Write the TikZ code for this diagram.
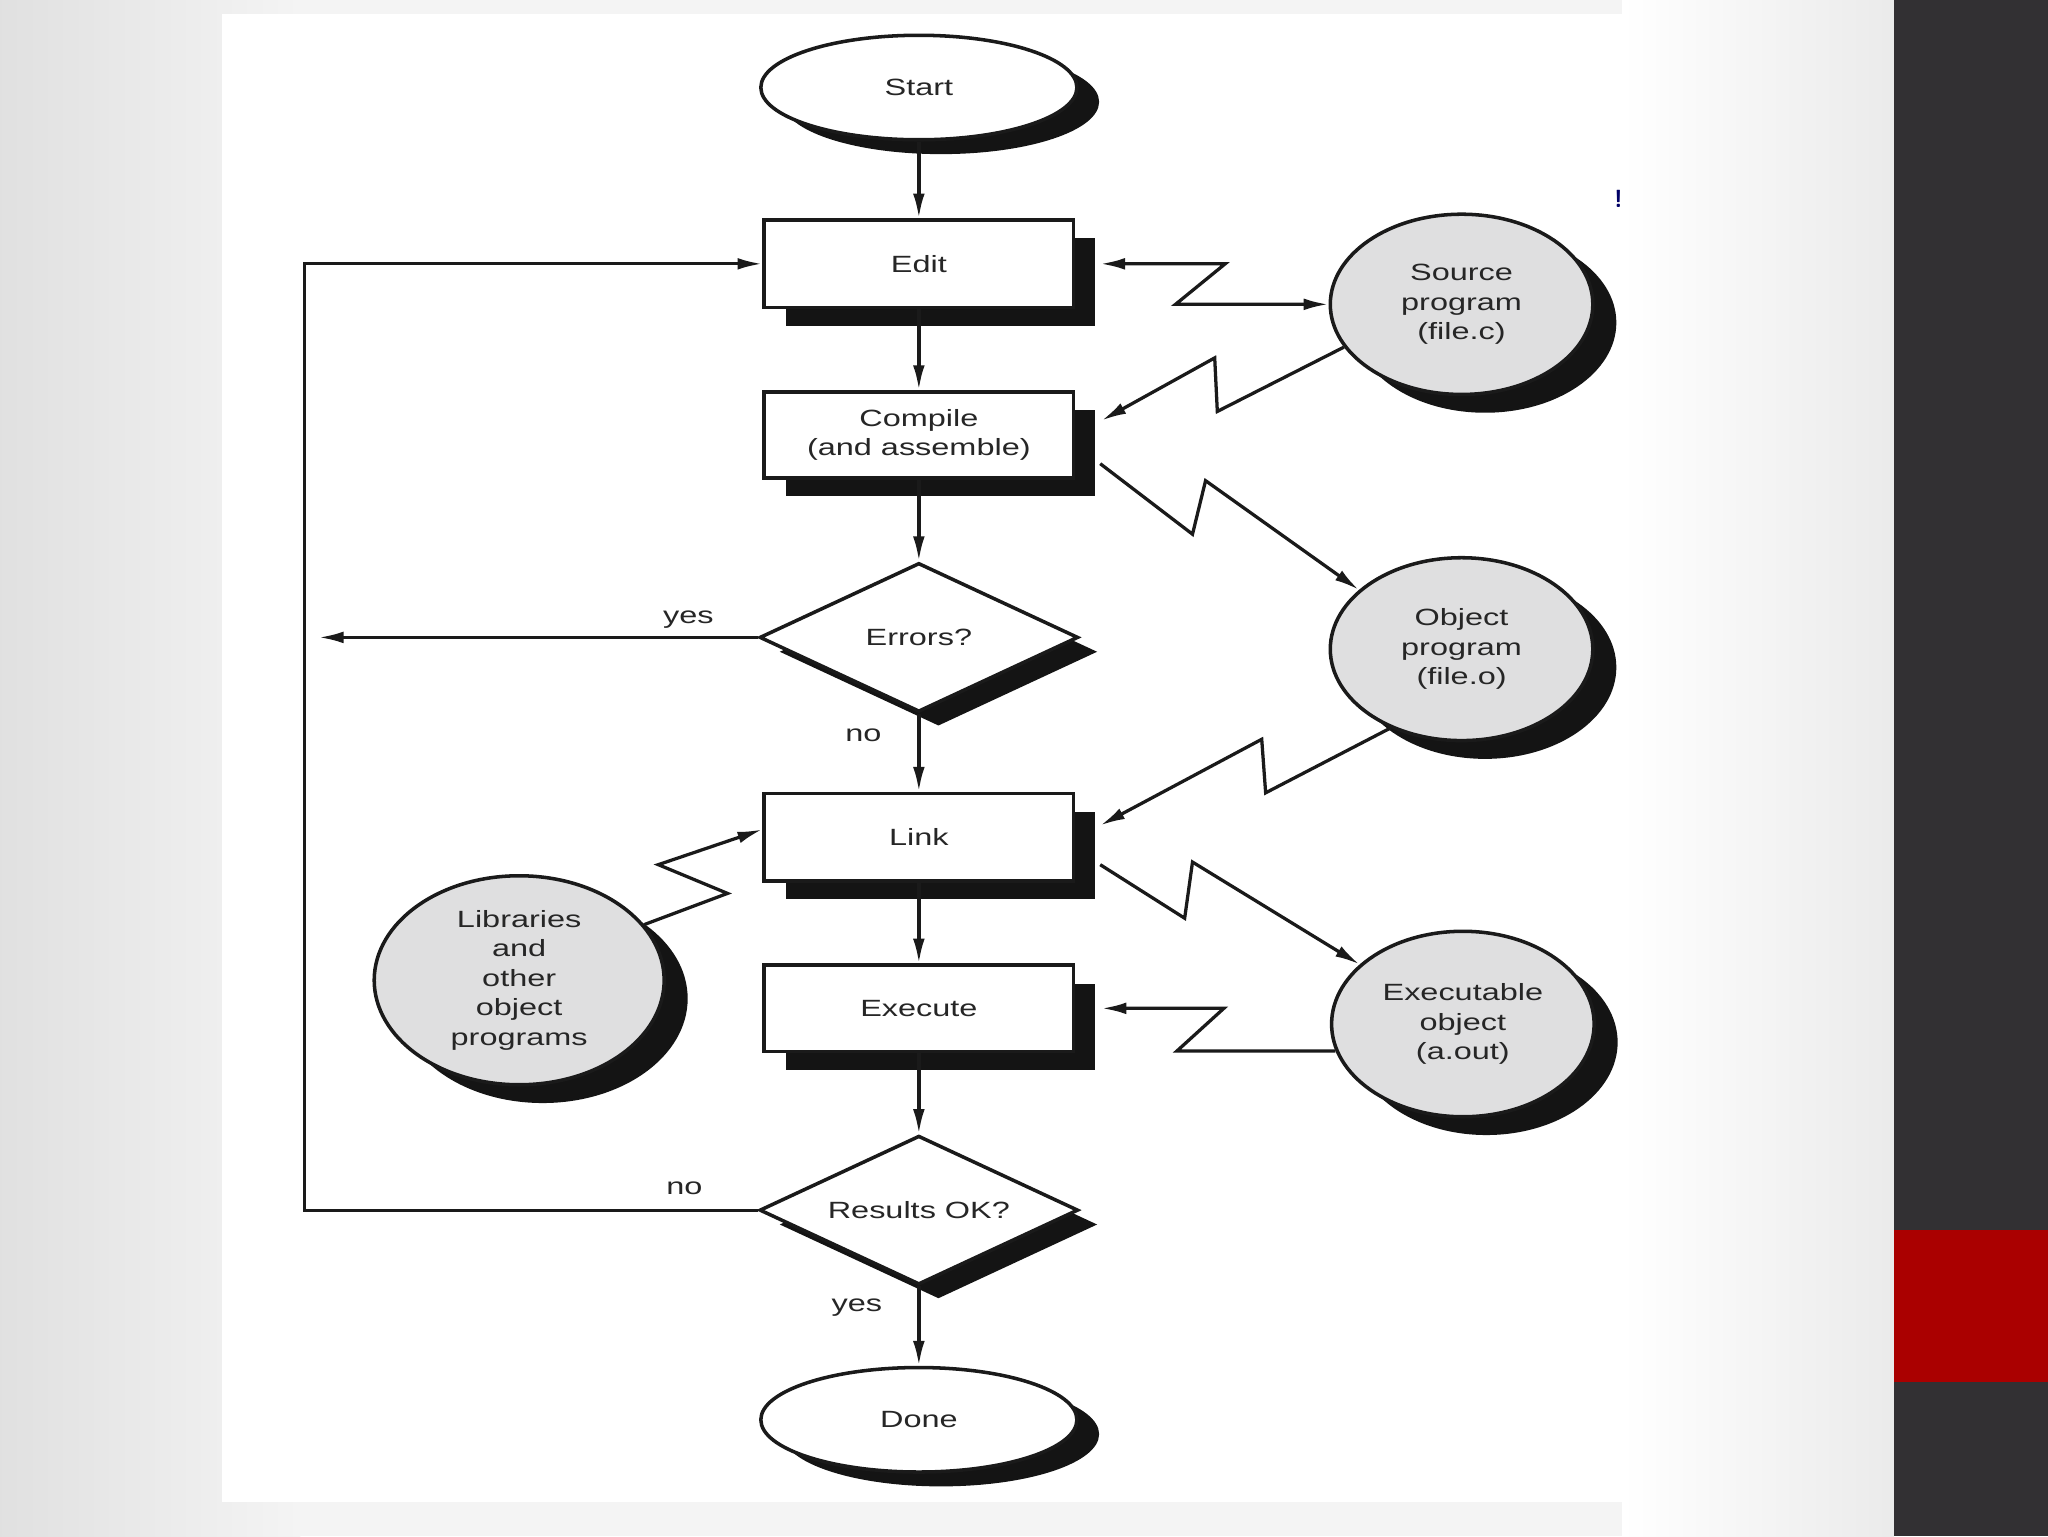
\documentclass[tikz,border=0pt]{standalone}
\usepackage{fontspec}
\newfontfamily\diafont[FakeStretch=1.38]{Liberation Sans}
\usetikzlibrary{shapes.geometric,shadows,arrows.meta,calc}
\definecolor{linec}{HTML}{1A1A1A}
\definecolor{textc}{HTML}{262626}
\definecolor{storegray}{HTML}{DFDFE0}
\definecolor{shadowc}{HTML}{141414}
\definecolor{bgc}{HTML}{F4F4F4}
\definecolor{barc}{HTML}{323033}
\definecolor{redc}{HTML}{AA0000}
\tikzset{
  base/.style={draw=linec, line width=2.7pt, text=textc, align=center, inner sep=0pt,
    font=\diafont\fontsize{18}{22.5}\selectfont},
  procbox/.style={base, rectangle, fill=white, minimum width=237pt, minimum height=67pt,
    drop shadow={shadow xshift=16.5pt, shadow yshift=-14pt, fill=shadowc, opacity=1}},
  term/.style={base, ellipse, fill=white, minimum width=242pt, minimum height=80pt,
    drop shadow={shadow xshift=17pt, shadow yshift=-11pt, fill=shadowc, opacity=1}},
  decision/.style={base, diamond, aspect=2.14, fill=white, minimum width=244pt, minimum height=114pt,
    drop shadow={shadow xshift=15pt, shadow yshift=-11pt, fill=shadowc, opacity=1}},
  store/.style={base, ellipse, fill=storegray, minimum width=201pt, minimum height=140pt,
    drop shadow={shadow xshift=18pt, shadow yshift=-14pt, fill=shadowc, opacity=1}},
  conn/.style={draw=linec, line width=2.5pt, line join=miter, -{Latex[length=19pt,width=9pt]}},
  biconn/.style={draw=linec, line width=2.5pt, line join=miter, {Latex[length=19pt,width=9pt]}-{Latex[length=19pt,width=9pt]}},
  lbl/.style={text=textc, inner sep=0pt, font=\diafont\fontsize{18}{22.5}\selectfont},
}
\begin{document}
\begin{tikzpicture}[x=1pt,y=-1pt]
\useasboundingbox (0,0) rectangle (1568,1176);
% background
\fill[bgc] (0,0) rectangle (1450,1176);
\shade[left color=black!12, right color=bgc] (0,0) rectangle (230,1176);
\shade[left color=white, right color=black!8] (1242,0) rectangle (1450,1176);
\fill[white] (170,11) rectangle (1242,1150);
\fill[barc] (1450,0) rectangle (1568,1176);
\fill[redc] (1450,942) rectangle (1568,1058);
\node[text=blue!40!black, inner sep=0pt, font=\sffamily\bfseries\fontsize{19}{19}\selectfont] (mark) at (1239,152) {!};

% main column
\node[term]     (start)   at (703.5,67)    {Start};
\node[procbox]  (edit)    at (703.5,202) {Edit};
\node[procbox, minimum height=66pt] (compile) at (703.5,333) {Compile\\(and assemble)};
\node[decision] (errors)  at (703.5,488)   {Errors?};
\node[procbox]  (link)    at (703.5,641) {Link};
\node[procbox, minimum height=66pt] (execute) at (703.5,772) {Execute};
\node[decision] (results) at (703.5,926.5) {Results OK?};
\node[term]     (done)    at (703.5,1087)  {Done};

% stores
\node[store, minimum height=138pt] (src) at (1119,233) {Source\\program\\(file.c)};
\node[store] (obj) at (1119,497) {Object\\program\\(file.o)};
\node[store, minimum height=142pt] (exe) at (1120,784) {Executable\\object\\(a.out)};
\node[store, minimum width=222pt, minimum height=160pt] (lib) at (397.5,750.5) {Libraries\\and\\other\\object\\programs};

% vertical flow
\draw[conn] (start.south) -- (edit.north);
\draw[conn] (edit.south) -- (compile.north);
\draw[conn] (compile.south) -- (errors.north);
\draw[conn] (errors.south) -- (link.north);
\draw[conn] (link.south) -- (execute.north);
\draw[conn] (execute.south) -- (results.north);
\draw[conn] (results.south) -- (done.north);

% labels
\node[lbl] (lyes1) at (527,474) {yes};
\node[lbl] (lno1)  at (661,563) {no};
\node[lbl] (lno2)  at (524,910) {no};
\node[lbl] (lyes2) at (656,1001) {yes};

% loops
\coordinate (yesend) at (244,488);
\draw[conn] (errors.west) -- (yesend);
\coordinate (loopB) at (233,926.5);
\coordinate (loopT) at (233,202);
\draw[conn] (results.west) -- (loopB) -- (loopT) -- (edit.west);

% lightning connectors
\draw[biconn] ($(edit.east)+(19,0)$) -- (938,202) -- (900,233) -- (src.west);
\draw[conn] (src.200) -- (932,315) -- (930,274) -- ($(compile.east)+(20,-11)$);
\draw[conn] ($(compile.east)+(19,22)$) -- (913,409) -- (923,368) -- (obj.150);
\draw[conn] (obj.228) -- (969,607) -- (966,566) -- ($(link.east)+(19,-9)$);
\draw[conn] ($(link.east)+(19,21)$) -- (907,703) -- (913,660) -- (exe.150);
\coordinate (z6a) at (901,0);
\draw[conn] (exe.192) -- (exe.192 -| z6a) -- (937,772) -- ($(execute.east)+(20,0)$);
\draw[conn] (lib.24) -- (557,684) -- (504,662) -- ($(link.west)+(0,-6)$);
\end{tikzpicture}
\end{document}
